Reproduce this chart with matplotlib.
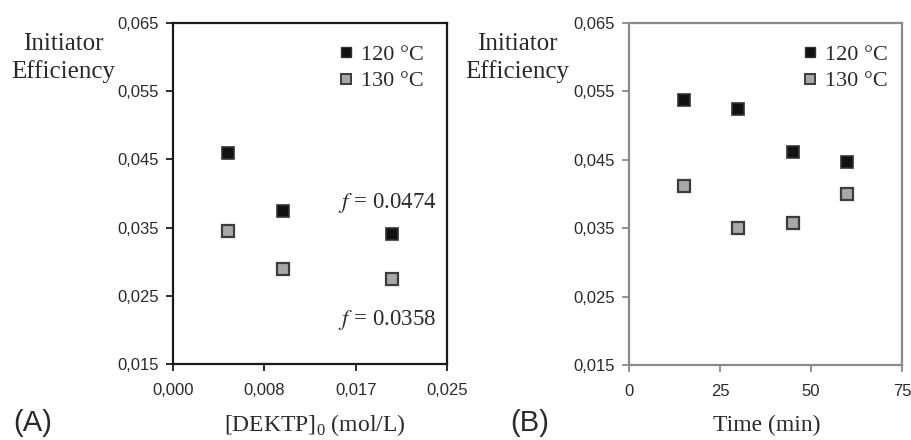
import matplotlib
matplotlib.use("Agg")
import matplotlib.pyplot as plt
from matplotlib.lines import Line2D

# Panel A: efficiency vs initial DEKTP concentration
conc = [0.005, 0.010, 0.020]
eff_conc_120 = [0.0460, 0.0375, 0.0340]
eff_conc_130 = [0.0345, 0.0290, 0.0275]
conc_ticks = [0.0, 0.025 / 3, 0.05 / 3, 0.025]
conc_ticklabels = ["0,000", "0,008", "0,017", "0,025"]

# Panel B: efficiency vs time
time_min = [15, 30, 45, 60]
eff_time_120 = [0.0538, 0.0525, 0.0462, 0.0447]
eff_time_130 = [0.0412, 0.0350, 0.0357, 0.0400]
time_ticks = [0, 25, 50, 75]
time_ticklabels = ["0", "25", "50", "75"]

y_ticks = [0.015, 0.025, 0.035, 0.045, 0.055, 0.065]
y_ticklabels = ["0,015", "0,025", "0,035", "0,045", "0,055", "0,065"]

series_labels = ["120 °C", "130 °C"]
fit_labels = ["$f$ = 0.0474", "$f$ = 0.0358"]

SERIF = "Liberation Serif"
SANS = "Liberation Sans"
TXT = "#2a2a2a"

fig = plt.figure(figsize=(9.12, 4.4), dpi=100)
W, H = 912, 440


def px_axes(l, t, r, b):
    return fig.add_axes([l / W, 1 - b / H, (r - l) / W, (b - t) / H])


def fx(x):
    return x / W


def fy(y):
    return 1 - y / H


def style(ax, spine_color, xticks, xlabels, xlim):
    ax.set_xlim(*xlim)
    ax.set_ylim(0.015, 0.065)
    ax.set_xticks(xticks)
    ax.set_xticklabels(xlabels)
    ax.set_yticks(y_ticks)
    ax.set_yticklabels(y_ticklabels)
    for s in ax.spines.values():
        s.set_color(spine_color)
        s.set_linewidth(1.6)
    ax.tick_params(direction="out", length=5, width=1.3, color=spine_color,
                   labelsize=12, labelcolor=TXT, pad=5)
    for lab in ax.get_xticklabels() + ax.get_yticklabels():
        lab.set_fontfamily(SANS)
    ax.tick_params(axis="x", pad=9)


def draw_series(ax, x, y120, y130):
    ax.plot(x, y120, linestyle="none", marker="s", markersize=8,
            markerfacecolor="#111111", markeredgecolor="#333333",
            markeredgewidth=1.2, clip_on=False)
    ax.plot(x, y130, linestyle="none", marker="s", markersize=8,
            markerfacecolor="#a8a8a8", markeredgecolor="#3c3c3c",
            markeredgewidth=1.6, clip_on=False)


def draw_legend(ax, right_px, top_px):
    handles = [
        Line2D([], [], linestyle="none", marker="s", markersize=7,
               markerfacecolor="#111111", markeredgecolor="#333333",
               markeredgewidth=1.0),
        Line2D([], [], linestyle="none", marker="s", markersize=7,
               markerfacecolor="#a8a8a8", markeredgecolor="#3c3c3c",
               markeredgewidth=1.4),
    ]
    leg = ax.legend(handles, series_labels, loc="upper right",
                    bbox_to_anchor=(fx(right_px), fy(top_px)),
                    bbox_transform=fig.transFigure, frameon=False,
                    prop={"family": SERIF, "size": 16},
                    handlelength=0.6, handletextpad=0.4,
                    labelspacing=0.28, borderpad=0.0, borderaxespad=0.0)
    for t in leg.get_texts():
        t.set_color(TXT)


def side_label(x_px):
    fig.text(fx(x_px), fy(58), "Initiator\nEfficiency", fontsize=18,
             color=TXT, family=SERIF, ha="center", va="center",
             linespacing=1.3, multialignment="center")


# ---- Panel A ----
axA = px_axes(173, 23, 447, 364)
style(axA, "#1a1a1a", conc_ticks, conc_ticklabels, (0.0, 0.025))
draw_series(axA, conc, eff_conc_120, eff_conc_130)
draw_legend(axA, 424, 44)

for yy, lab in zip([203, 320], fit_labels):
    fig.text(fx(338), fy(yy), lab, fontsize=16.5, color=TXT,
             family=SERIF, ha="left", va="center", math_fontfamily="stix")

fig.text(fx(315), fy(425), "[DEKTP]$_{\\mathregular{0}}$ (mol/L)",
         fontsize=17, color=TXT, family=SERIF, ha="center", va="center")
fig.text(fx(13), fy(423), "(A)", fontsize=21, color=TXT,
         family=SANS, ha="left", va="center")
side_label(63)

# ---- Panel B ----
axB = px_axes(629, 23, 902, 365)
style(axB, "#8a8a8a", time_ticks, time_ticklabels, (0, 75))
draw_series(axB, time_min, eff_time_120, eff_time_130)
draw_legend(axB, 888, 44)

fig.text(fx(767), fy(425), "Time (min)", fontsize=17, color=TXT,
         family=SERIF, ha="center", va="center")
fig.text(fx(510), fy(423), "(B)", fontsize=21, color=TXT,
         family=SANS, ha="left", va="center")
side_label(517)

fig.savefig("out.png", dpi=100, facecolor="white")
